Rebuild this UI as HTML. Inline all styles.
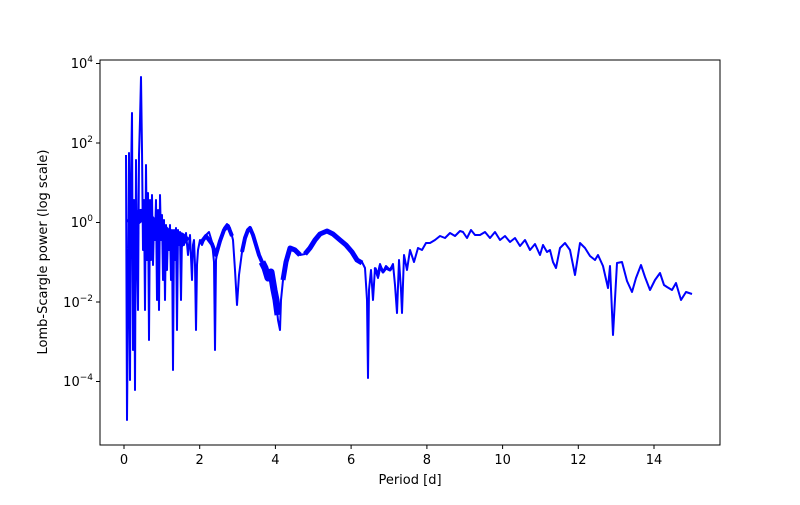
<!DOCTYPE html>
<html><head><meta charset="utf-8"><style>
body{margin:0;background:#fff}
svg text{font-family:"DejaVu Sans","Liberation Sans",sans-serif;font-size:13px;fill:#000}
</style></head><body>
<svg width="800" height="500" xmlns="http://www.w3.org/2000/svg">
<rect width="800" height="500" fill="#fff"/>
<g stroke="#000" stroke-width="1">
<line x1="124" y1="445" x2="124" y2="449"/><line x1="199.7" y1="445" x2="199.7" y2="449"/>
<line x1="275.4" y1="445" x2="275.4" y2="449"/><line x1="351.1" y1="445" x2="351.1" y2="449"/>
<line x1="426.9" y1="445" x2="426.9" y2="449"/><line x1="502.6" y1="445" x2="502.6" y2="449"/>
<line x1="578.3" y1="445" x2="578.3" y2="449"/><line x1="654" y1="445" x2="654" y2="449"/>
<line x1="96" y1="63.5" x2="100" y2="63.5"/><line x1="96" y1="143" x2="100" y2="143"/>
<line x1="96" y1="222.5" x2="100" y2="222.5"/><line x1="96" y1="302" x2="100" y2="302"/>
<line x1="96" y1="381.5" x2="100" y2="381.5"/>
</g>
<g text-anchor="middle">
<text x="124" y="464">0</text><text x="199.7" y="464">2</text><text x="275.4" y="464">4</text>
<text x="351.1" y="464">6</text><text x="426.9" y="464">8</text><text x="502.6" y="464">10</text>
<text x="578.3" y="464">12</text><text x="654" y="464">14</text>
<text x="410" y="484">Period [d]</text>
</g>
<g text-anchor="end">
<text x="93" y="68">10<tspan font-size="9" dy="-6">4</tspan></text>
<text x="93" y="148">10<tspan font-size="9" dy="-6">2</tspan></text>
<text x="93" y="227">10<tspan font-size="9" dy="-6">0</tspan></text>
<text x="93" y="307">10<tspan font-size="9" dy="-6">−2</tspan></text>
<text x="93" y="386">10<tspan font-size="9" dy="-6">−4</tspan></text>
</g>
<text transform="translate(47,252) rotate(-90)" text-anchor="middle">Lomb-Scargle power (log scale)</text>
<g fill="none" stroke="#0000ff" stroke-linejoin="round" stroke-linecap="butt">
<polyline stroke-width="2" points="126,155 127,420 128,300 129,153 130,380 131,180 132,113 133,350 134,200 135,390 136,160 137,250 138,310 139,155 140,120 141,77 142,150 143,250 144,200 145,310 146,165 147,260 148,193 149,340 150,200 151,260 152,195 153,265 154,220 155,240 156,200 157,300 158,210 159,310 160,195 161,240 162,215 163,280 164,220 165,300 166,225 167,270 168,230 169,250 170,225 171,280 172,230 173,370 174,230 175,260 176,228 177,330 178,230 179,245 180,232 181,300 182,235 184,245 186,233 188,255 190,235 192,280 193,245 194,240 195,265 196,330 197,265 198,250 200,240 202,245 206,235 209,232 212,242 214,262 215,350 216,260 218,248 220,240 224,228 227,224 230,228 233,240 235,270 237,305 239,275 242,252 245,238 248,230 250,228 253,235 256,245 259,255 262,262 265,268 268,278 271,270 274,290 276,300 278,320 280,330 281,300 283,280 286,260 290,247 295,250 300,255 305,254 310,248 315,240 320,233 327,230 333,233 340,240 346,245 352,252 357,260 362,262 365,268 367,300 368,378 369,290 371,270 373,300 375,268 378,278 380,264 383,272 386,266 390,270 393,264 395,285 397,313 399,260 401,290 402,313 404,255 407,270 410,250 414,262 418,248 422,250 426,243 430,243 435,240 440,236 445,238 450,233 455,236 460,231 463,232 467,238 471,230 475,235 480,235 485,232 490,238 495,232 500,240 505,236 510,242 515,238 520,246 525,240 530,250 535,244 540,255 543,245 547,252 550,250 553,262 556,268 560,248 565,243 570,250 575,275 580,243 585,248 590,256 595,260 598,255 603,266 608,288 610,266 613,335 617,263 622,262 627,281 632,292 636,278 641,265 645,277 650,290 655,280 660,273 664,285 667,287 672,290 676,283 681,300 686,292 692,294"/>
<polyline stroke-width="12" points="130,225 135,220 141,215 147,218 153,225 160,228 167,235 174,238 180,238 186,243"/>
<polyline stroke-width="4" points="200,244 206,236 212,244 216,255 220,241 224,230 228,226 232,236"/>
<polyline stroke-width="4" points="242,252 245,238 248,230 250,228 253,235 256,245 259,255 262,262"/>
<polyline stroke-width="7" points="262,262 265,268 268,278 271,272 274,290 276,300 278,315"/>
<polyline stroke-width="5" points="283,280 286,262 290,248 295,250 300,255"/>
<polyline stroke-width="5" points="305,254 310,248 315,240 320,234 327,231 333,234 340,240 346,245 352,252 357,260 362,263"/>
<polyline stroke-width="3" points="375,268 378,276 380,266 383,272 386,268 390,270 393,266"/>
</g>
<rect x="100" y="60" width="620" height="385" fill="none" stroke="#000" stroke-width="1"/>
</svg>
</body></html>
